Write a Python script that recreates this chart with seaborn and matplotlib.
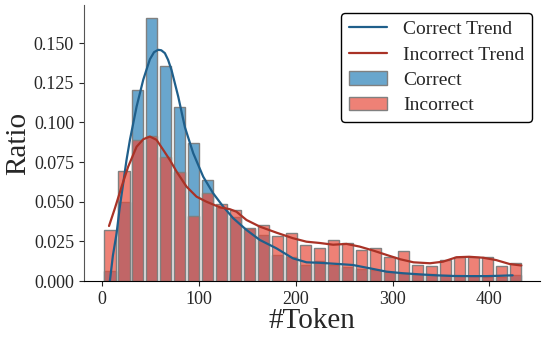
import numpy as np
import pandas as pd
import matplotlib
matplotlib.use('Agg')
import matplotlib.pyplot as plt
import seaborn as sns

# bins (shared) and bar heights
bin_edges = list(np.linspace(0.5, 434, 31))
correct_ratio = [0.0065, 0.050, 0.1205, 0.1657, 0.1357, 0.1096, 0.0869, 0.0637, 0.046, 0.0406,
                 0.033, 0.029, 0.0164, 0.015, 0.0104, 0.0126, 0.0101, 0.009, 0.0074, 0.0069,
                 0.0059, 0.0049, 0.0044, 0.0042, 0.0038, 0.0032, 0.003, 0.0027, 0.0027, 0.0038]
incorrect_ratio = [0.0322, 0.0696, 0.089, 0.0915, 0.078, 0.0686, 0.041, 0.0553, 0.0486, 0.0448,
                   0.0335, 0.0353, 0.0284, 0.0301, 0.0227, 0.0206, 0.0259, 0.0238, 0.0196, 0.0206,
                   0.015, 0.0187, 0.0101, 0.0095, 0.0132, 0.0153, 0.0153, 0.0153, 0.0095, 0.0115]

# trend curves
correct_trend_x = [7.9, 11, 14.8, 18, 21.7, 25, 28.6, 35.5, 42.4, 49.2, 53.5, 57.8, 61, 64.7, 68,
                   71.6, 78.5, 85.4, 94, 104.3, 114.6, 125, 135.3, 149, 162.8, 180, 197, 211,
                   224.6, 245, 259, 276.6, 293.8, 310.8, 328, 345, 362, 379, 397, 410, 424]
correct_trend_y = [0.0, 0.016, 0.030, 0.046, 0.0617, 0.076, 0.089, 0.110, 0.127, 0.1398, 0.1443,
                   0.1458, 0.1455, 0.1437, 0.1395, 0.133, 0.1163, 0.097, 0.0806, 0.0658, 0.0553,
                   0.0469, 0.0396, 0.0322, 0.0259, 0.0206, 0.0143, 0.0118, 0.0115, 0.0107, 0.0101,
                   0.008, 0.0059, 0.0049, 0.0042, 0.0036, 0.0032, 0.0031, 0.0031, 0.0033, 0.0036]
incorrect_trend_x = [7, 13.1, 20, 26.8, 35.5, 42.4, 49.2, 56.1, 63, 69.9, 76.8, 87.1, 97.4, 107.7,
                     121.5, 131.8, 138.7, 149, 162.8, 180, 197, 211, 224.6, 238.5, 252.3, 266, 280,
                     294, 308, 321.6, 338.6, 352, 366, 379, 393.5, 407, 421, 433]
incorrect_trend_y = [0.0347, 0.0459, 0.0595, 0.0721, 0.0847, 0.0894, 0.0911, 0.089, 0.0827, 0.0763,
                     0.069, 0.0595, 0.0532, 0.050, 0.0465, 0.0453, 0.0437, 0.0385, 0.0343, 0.0305,
                     0.027, 0.0248, 0.024, 0.0229, 0.0234, 0.0217, 0.0192, 0.0164, 0.0137, 0.0118,
                     0.0112, 0.0122, 0.015, 0.0153, 0.0147, 0.0132, 0.0107, 0.0098]

bin_centers = [(a + b) / 2 for a, b in zip(bin_edges[:-1], bin_edges[1:])]
df_correct = pd.DataFrame({'token': bin_centers, 'ratio': correct_ratio})
df_incorrect = pd.DataFrame({'token': bin_centers, 'ratio': incorrect_ratio})

sns.set_style('ticks')
plt.rcParams['font.family'] = ['Liberation Serif', 'DejaVu Serif']

fig, ax = plt.subplots(figsize=(5.48, 3.39), dpi=100)

# bars
sns.histplot(data=df_correct, x='token', weights='ratio', bins=bin_edges, shrink=0.83,
             color='#2980B9', alpha=0.7, edgecolor='#808080', linewidth=1,
             label='Correct', ax=ax)
sns.histplot(data=df_incorrect, x='token', weights='ratio', bins=bin_edges, shrink=0.83,
             color='#E74C3C', alpha=0.7, edgecolor='#808080', linewidth=1,
             label='Incorrect', ax=ax)

# trend lines
sns.lineplot(x=correct_trend_x, y=correct_trend_y, color='#1F5F8B', linewidth=1.6,
             label='Correct Trend', ax=ax)
sns.lineplot(x=incorrect_trend_x, y=incorrect_trend_y, color='#A93226', linewidth=1.6,
             label='Incorrect Trend', ax=ax)

ax.set_xlim(-19, 452)
ax.set_ylim(0, 0.174)
ax.set_yticks([0, 0.025, 0.05, 0.075, 0.1, 0.125, 0.15])
ax.set_yticklabels(['0.000', '0.025', '0.050', '0.075', '0.100', '0.125', '0.150'])
ax.set_xticks([0, 100, 200, 300, 400])
ax.tick_params(labelsize=13)
ax.set_xlabel('#Token', fontsize=21, labelpad=0)
ax.set_ylabel('Ratio', fontsize=21, labelpad=2)
sns.despine(ax=ax)
ax.spines['left'].set_color('#555555')
ax.spines['bottom'].set_color('black')

handles, labels = ax.get_legend_handles_labels()
order = ['Correct Trend', 'Incorrect Trend', 'Correct', 'Incorrect']
hmap = dict(zip(labels, handles))
leg = ax.legend([hmap[k] for k in order], order, loc='upper right', fontsize=14,
                frameon=True, framealpha=1, edgecolor='black', borderaxespad=0.4,
                labelspacing=0.4)

fig.subplots_adjust(left=0.153, right=0.985, bottom=0.171, top=0.985)
fig.savefig('out.png', dpi=100)
